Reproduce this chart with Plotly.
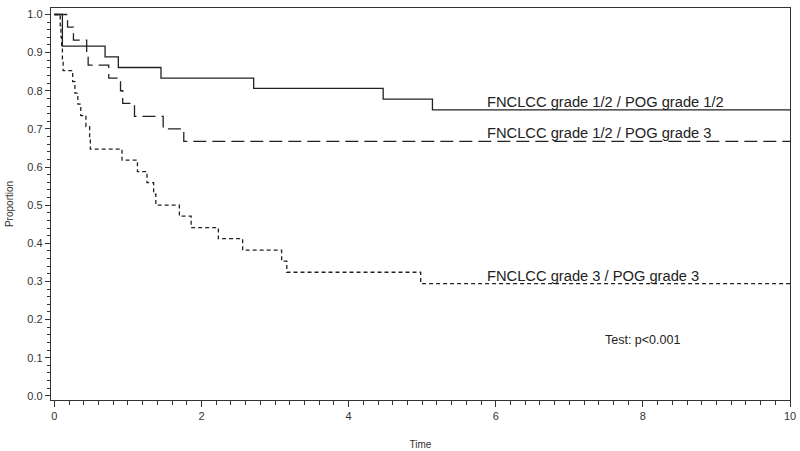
import plotly.graph_objects as go

# Kaplan-Meier step curves
time_g12_pog12 = [0, 0.11, 0.69, 0.87, 1.45, 2.71, 4.47, 5.14, 10]
surv_g12_pog12 = [1.0, 0.917, 0.889, 0.861, 0.833, 0.806, 0.778, 0.75, 0.75]

time_g12_pog3 = [0, 0.18, 0.26, 0.44, 0.46, 0.74, 0.90, 0.93, 1.09, 1.48, 1.76, 10]
surv_g12_pog3 = [1.0, 0.967, 0.933, 0.90, 0.867, 0.833, 0.80, 0.767, 0.733, 0.70, 0.667, 0.667]

time_g3_pog3 = [0, 0.08, 0.09, 0.10, 0.11, 0.12, 0.25, 0.28, 0.32, 0.36, 0.43, 0.48, 0.49,
                0.92, 1.13, 1.26, 1.35, 1.38, 1.70, 1.86, 2.23, 2.56, 3.09, 3.16, 4.98, 10]
surv_g3_pog3 = [1.0, 0.971, 0.941, 0.912, 0.882, 0.853, 0.824, 0.794, 0.765, 0.735, 0.706, 0.676, 0.647,
                0.618, 0.588, 0.559, 0.529, 0.50, 0.471, 0.441, 0.412, 0.382, 0.353, 0.324, 0.294, 0.294]

curve_names = ["FNCLCC grade 1/2 / POG grade 1/2",
               "FNCLCC grade 1/2 / POG grade 3",
               "FNCLCC grade 3 / POG grade 3"]
test_text = "Test: p<0.001"

x_ticks = [0, 2, 4, 6, 8, 10]

ink = "#222222"
font_fam = "Arial, Liberation Sans, sans-serif"

fig = go.Figure()
series = [(time_g12_pog12, surv_g12_pog12, "solid"),
          (time_g12_pog3, surv_g12_pog3, "13px,6px"),
          (time_g3_pog3, surv_g3_pog3, "4px,3px")]
for (t, s, dash), name in zip(series, curve_names):
    fig.add_trace(go.Scatter(x=t, y=s, mode="lines", line_shape="hv", name=name,
                             line=dict(color=ink, width=1.3, dash=dash), showlegend=False))

# curve labels sitting on the last flat part of each curve
for (t, s, _), name in zip(series, curve_names):
    fig.add_annotation(x=5.85, y=s[-1], text=name, showarrow=False, xanchor="left", yanchor="bottom",
                       yshift=-2, font=dict(size=14.7, color=ink, family=font_fam))

fig.add_annotation(x=8.0, y=0.146, text=test_text, showarrow=False,
                   font=dict(size=12.5, color=ink, family=font_fam))

fig.update_xaxes(range=[-0.045, 10.0], tickvals=x_ticks, ticks="outside", ticklen=6, tickwidth=1.3,
                 tickcolor="#333", showline=True, linecolor="#333", linewidth=1.3, mirror=True,
                 showgrid=False, zeroline=False, automargin=False,
                 minor=dict(ticks="outside", dtick=0.2, ticklen=4, tickcolor="#333", showgrid=False),
                 tickfont=dict(size=11, color="#333"),
                 title=dict(text="Time", font=dict(size=10, color="#333"), standoff=19))
fig.update_yaxes(range=[-0.011, 1.017], dtick=0.1, tick0=0, tickformat=".1f", ticks="outside", ticklen=5,
                 tickwidth=1.3, tickcolor="#333", showline=True, linecolor="#333", linewidth=1.3,
                 mirror=True, showgrid=False, zeroline=False, automargin=False,
                 minor=dict(ticks="outside", dtick=0.02, ticklen=3, tickcolor="#333", showgrid=False),
                 tickfont=dict(size=11, color="#333"),
                 title=dict(text="Proportion", font=dict(size=10, color="#333"), standoff=11))

fig.update_layout(width=800, height=451, margin=dict(l=51, r=10, t=8, b=51),
                  plot_bgcolor="white", paper_bgcolor="white",
                  font=dict(family=font_fam, color="#333"))

# drop the default page margin so the figure sits at the window's corner
fig.write_html("out.html", config={"displayModeBar": False},
               post_script="document.body.style.margin = '0';")
